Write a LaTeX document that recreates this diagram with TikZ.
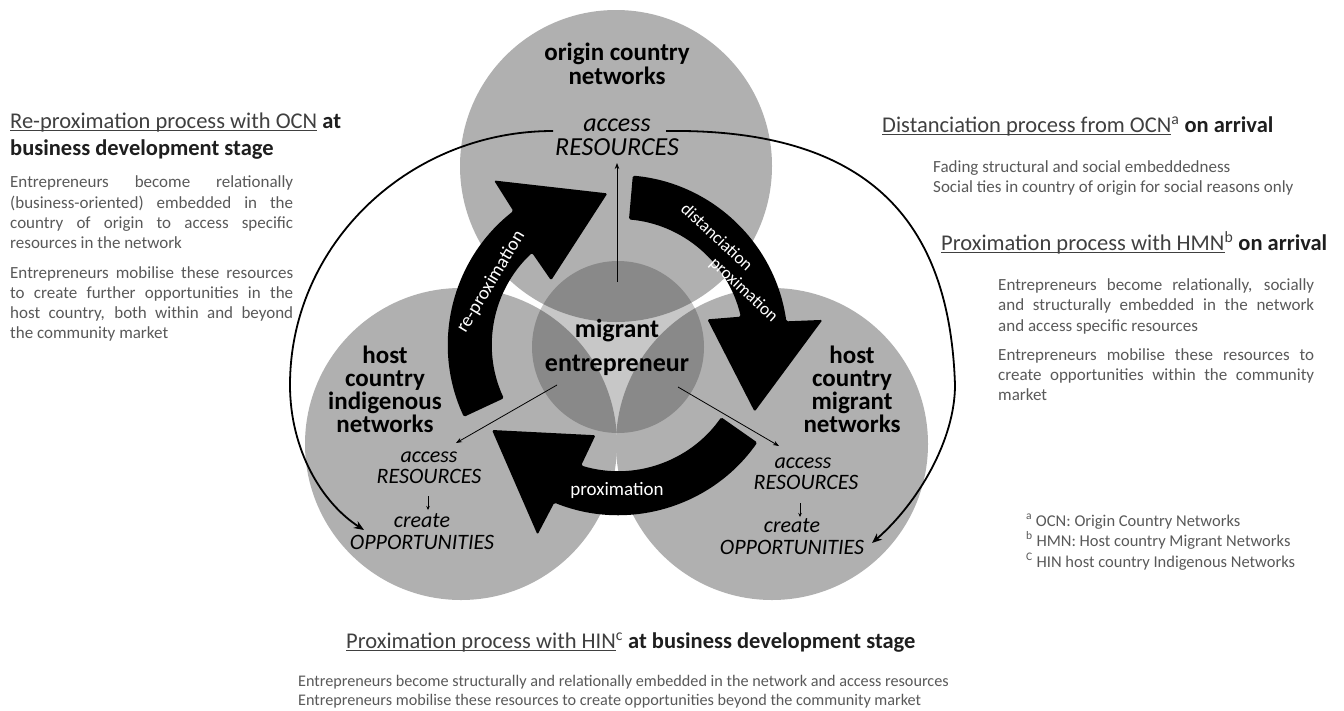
\documentclass[tikz,border=0pt]{standalone}
\usepackage{fontspec}
\setmainfont{Carlito}
\usetikzlibrary{arrows.meta}
\definecolor{circfill}{RGB}{176,176,176}
\definecolor{headc}{RGB}{64,64,64}
\definecolor{boldc}{RGB}{30,30,30}
\definecolor{bodyc}{RGB}{89,89,89}
\newcommand{\fsz}[2]{\fontsize{#1}{#2}\selectfont}
\newcommand{\jl}[2]{\makebox[#1][s]{#2}}
\newcommand{\ulx}[1]{\setbox0\hbox{#1}\rlap{\rule[-2.6pt]{\wd0}{1pt}}\box0\relax}
\begin{document}
\begin{tikzpicture}[x=1pt,y=1pt,
  bigc/.style={circle, fill=circfill, minimum size=312pt, inner sep=0pt},
  midc/.style={circle, fill=black, fill opacity=0.22, minimum size=172pt, inner sep=0pt},
  clab/.style={font=\bfseries\fsz{25}{25}, inner sep=0pt, anchor=base},
  itop/.style={font=\itshape\fsz{26}{26}, inner sep=0pt, anchor=base},
  ilow/.style={font=\itshape\fsz{22}{22}, inner sep=0pt, anchor=base},
  alab/.style={font=\fsz{19}{19}, text=white, inner sep=0pt},
  head/.style={font=\fsz{22.5}{27}, text=headc, inner sep=0pt, anchor=base west},
  body/.style={font=\fsz{17}{20}, text=bodyc, inner sep=0pt, anchor=base west},
  foot/.style={font=\fsz{16.5}{18}, text=bodyc, inner sep=0pt, anchor=base west},
  thin/.style={draw=black, line width=0.8pt, -{Stealth[length=6pt,width=4.5pt]}},
  tiny/.style={draw=black, line width=0.8pt, -{Stealth[length=4pt,width=3.5pt]}},
  bigarc/.style={draw=black, line width=1.8pt, -{Stealth[length=10pt,width=8pt]}},
  ringarr/.style={fill=black, rounded corners=1.5pt},
]
\useasboundingbox (0,-710) rectangle (1344,0);
\fill[white] (0,-710) rectangle (1344,0);

% circles
\node[bigc] (ocn) at (616,-166) {};
\node[bigc] (hin) at (461,-444) {};
\node[bigc] (hmn) at (772,-444) {};
\node[midc] (me) at (618,-347) {};

% ring of arrows
\foreach \r in {0,-120,-240}{
  \fill[ringarr, shift={(618,-345)}, rotate=\r]
    (205:170) arc[start angle=205, end angle=128, radius=170]
    -- (127:206) -- (94:152) -- (136:93) -- (133:126)
    arc[start angle=133, end angle=205, radius=126] -- cycle;
}
\node[alab, rotate=59] (lrp) at (491,-282) {re-proximation};
\node[alab, font=\fsz{17.5}{19.5}, align=left, rotate=-43] (ldist) at (729,-263)
  {distanciation\\\hspace*{58pt}proximation};
\node[alab] (lprox2) at (617,-490) {proximation};

% labels in circles
\node[clab] (t1) at (617,-60) {origin country};
\node[clab] (t2) at (617,-84) {networks};
\node[itop] (t3) at (617,-131) {access};
\node[itop] (t4) at (617,-155) {RESOURCES};

\node[clab, font=\bfseries\fsz{26}{26}] (m1) at (617,-337) {migrant};
\node[clab, font=\bfseries\fsz{26}{26}] (m2) at (617,-371) {entrepreneur};

\node[clab] (l1) at (385,-363) {host};
\node[clab] (l2) at (385,-386) {country};
\node[clab] (l3) at (385,-409) {indigenous};
\node[clab] (l4) at (385,-432) {networks};

\node[clab] (r1) at (852,-363) {host};
\node[clab] (r2) at (852,-386) {country};
\node[clab] (r3) at (852,-409) {migrant};
\node[clab] (r4) at (852,-432) {networks};

\node[ilow] (la1) at (429,-462) {access};
\node[ilow] (la2) at (429,-483) {RESOURCES};
\node[ilow] (la3) at (422,-527) {create};
\node[ilow] (la4) at (422,-549) {OPPORTUNITIES};

\node[ilow] (ra1) at (803,-468) {access};
\node[ilow] (ra2) at (806,-489) {RESOURCES};
\node[ilow] (ra3) at (792,-532) {create};
\node[ilow] (ra4) at (792,-554) {OPPORTUNITIES};

% thin arrows
\coordinate (u0) at (617,-282); \coordinate (u1) at (617,-163);
\coordinate (p0) at (557,-385); \coordinate (p1) at (456,-443);
\coordinate (q0) at (678,-387); \coordinate (q1) at (779,-446);
\draw[thin] (u0) -- (u1);
\draw[thin] (p0) -- (p1);
\draw[thin] (q0) -- (q1);
\coordinate (sl0) at (428,-496); \coordinate (sl1) at (428,-510);
\coordinate (sr0) at (800,-503); \coordinate (sr1) at (800,-517);
\draw[tiny] (sl0) -- (sl1);
\draw[tiny] (sr0) -- (sr1);

% big outer arcs
\coordinate (al0) at (553,-131); \coordinate (al1) at (290,-385); \coordinate (al2) at (364,-530);
\draw[bigarc] (al0) .. controls (408,-131) and (290,-245) .. (al1) .. controls (290,-450) and (322,-503) .. (al2);
\coordinate (ar0) at (666,-131); \coordinate (ar1) at (955,-385); \coordinate (ar2) at (872,-543);
\draw[bigarc] (ar0) .. controls (880,-128) and (950,-232) .. (ar1) .. controls (955,-440) and (918,-503) .. (ar2);

% left text block
\node[head] (lh1) at (10,-128) {\ulx{Re-proximation process with OCN} \textbf{\color{boldc}at}};
\node[head] (lh2) at (10,-155) {\textbf{\color{boldc}business development stage}};
\node[body] (lb1) at (10,-187) {\jl{283pt}{Entrepreneurs become relationally}};
\node[body] (lb2) at (10,-208) {\jl{283pt}{(business-oriented) embedded in the}};
\node[body] (lb3) at (10,-228) {\jl{283pt}{country of origin to access specific}};
\node[body] (lb4) at (10,-248) {resources in the network};
\node[body] (lb5) at (10,-278) {\jl{283pt}{Entrepreneurs mobilise these resources}};
\node[body] (lb6) at (10,-298) {\jl{283pt}{to create further opportunities in the}};
\node[body] (lb7) at (10,-318) {\jl{283pt}{host country, both within and beyond}};
\node[body] (lb8) at (10,-338) {the community market};

% right text blocks
\node[head] (rh1) at (882,-132) {\ulx{Distanciation process from OCN}\textsuperscript{a} \textbf{\color{boldc}on arrival}};
\node[body] (rb1) at (933,-172) {Fading structural and social embeddedness};
\node[body] (rb2) at (933,-192) {Social ties in country of origin for social reasons only};
\node[head] (rh2) at (941,-250) {\ulx{Proximation process with HMN}\textsuperscript{b} \textbf{\color{boldc}on arrival}};
\node[body] (rc1) at (998,-290) {\jl{316pt}{Entrepreneurs become relationally, socially}};
\node[body] (rc2) at (998,-310.5) {\jl{316pt}{and structurally embedded in the network}};
\node[body] (rc3) at (998,-331) {and access specific resources};
\node[body] (rc4) at (998,-360) {\jl{316pt}{Entrepreneurs mobilise these resources to}};
\node[body] (rc5) at (998,-380.5) {\jl{316pt}{create opportunities within the community}};
\node[body] (rc6) at (998,-400) {market};

% footnotes
\node[foot] (f1) at (1026,-526) {\textsuperscript{a} OCN: Origin Country Networks};
\node[foot] (f2) at (1026,-546) {\textsuperscript{b} HMN: Host country Migrant Networks};
\node[foot] (f3) at (1026,-567) {\textsuperscript{C} HIN host country Indigenous Networks};

% bottom block
\node[head] (bh) at (346,-648) {\ulx{Proximation process with HIN}\textsuperscript{c} \textbf{\color{boldc}at business development stage}};
\node[body, font=\fsz{16.2}{20}] (bb1) at (298,-686) {Entrepreneurs become structurally and relationally embedded in the network and access resources};
\node[body, font=\fsz{16.2}{20}] (bb2) at (298,-705) {Entrepreneurs mobilise these resources to create opportunities beyond the community market};
\end{tikzpicture}
\end{document}
